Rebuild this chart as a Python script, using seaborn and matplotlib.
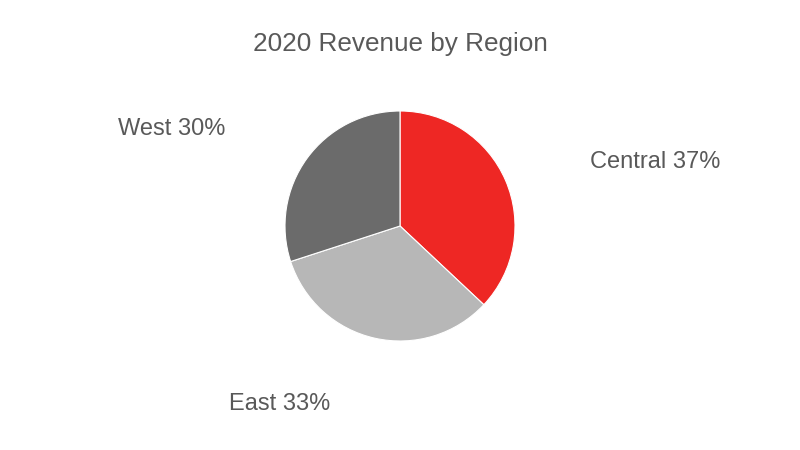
import matplotlib
matplotlib.use("Agg")
import matplotlib.pyplot as plt
import seaborn as sns

# 数据
regions = ["Central", "East", "West"]
shares = [37, 33, 30]
colors = ["#EE2724", "#B7B7B7", "#6B6B6B"]
title = "2020 Revenue by Region"

sns.set_theme(style="white")
plt.rcParams['font.family'] = ['Liberation Sans', 'DejaVu Sans']

fig = plt.figure(figsize=(8, 4.5), dpi=100)
ax = fig.add_axes([0, 0, 1, 1])

# 饼图，从12点方向顺时针
ax.pie(shares, colors=colors, startangle=90, counterclock=False,
       center=(400, 224), radius=115, frame=True,
       wedgeprops=dict(linewidth=0.8, edgecolor="white"))
ax.set_xlim(0, 800)
ax.set_ylim(0, 450)
ax.set_aspect("equal")
ax.axis("off")

text_color = "#595959"
label_pos = {"Central": (655, 288), "East": (280, 46), "West": (172, 321)}
for name, val in zip(regions, shares):
    x, y = label_pos[name]
    ax.text(x, y, f"{name} {val}%", ha="center", va="center",
            fontsize=17, color=text_color)

ax.text(400, 406, title, ha="center", va="center", fontsize=18.8, color=text_color)

fig.savefig("out.png", dpi=100)
